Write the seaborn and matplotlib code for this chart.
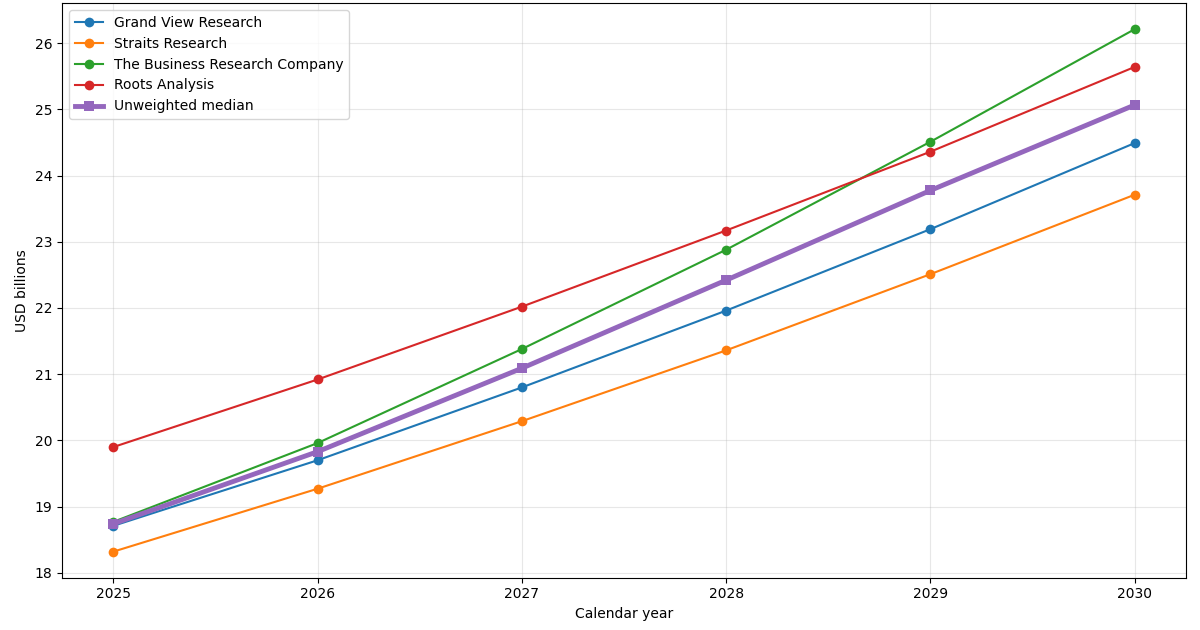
import numpy as np
import pandas as pd
import matplotlib
matplotlib.use("Agg")
import matplotlib.pyplot as plt
import seaborn as sns

years = [2025, 2026, 2027, 2028, 2029, 2030]
grand_view = [18.71, 19.70, 20.80, 21.96, 23.19, 24.49]
straits = [18.32, 19.27, 20.29, 21.36, 22.51, 23.71]
business_research = [18.77, 19.96, 21.38, 22.88, 24.51, 26.21]
roots = [19.90, 20.92, 22.02, 23.17, 24.36, 25.64]

series = {
    "Grand View Research": grand_view,
    "Straits Research": straits,
    "The Business Research Company": business_research,
    "Roots Analysis": roots,
}
colors = ["#1f77b4", "#ff7f0e", "#2ca02c", "#d62728"]

median = np.median(np.array(list(series.values())), axis=0)

fig, ax = plt.subplots(figsize=(12, 6.3), dpi=100)
for (name, vals), c in zip(series.items(), colors):
    df = pd.DataFrame({"year": years, "value": vals})
    sns.lineplot(data=df, x="year", y="value", color=c, marker="o",
                 markersize=7, markeredgewidth=0, linewidth=1.5, label=name, ax=ax)

med_df = pd.DataFrame({"year": years, "value": median})
sns.lineplot(data=med_df, x="year", y="value", color="#9467bd", marker="s",
             markersize=7, markeredgewidth=0, linewidth=3.5,
             label="Unweighted median", ax=ax)

ax.set_xticks(years)
ax.set_xlabel("Calendar year")
ax.set_ylabel("USD billions")
ax.grid(True, alpha=0.3)
ax.legend(loc="upper left")
fig.subplots_adjust(left=0.052, right=0.988, top=0.995, bottom=0.083)
fig.savefig("out.png", dpi=100)
